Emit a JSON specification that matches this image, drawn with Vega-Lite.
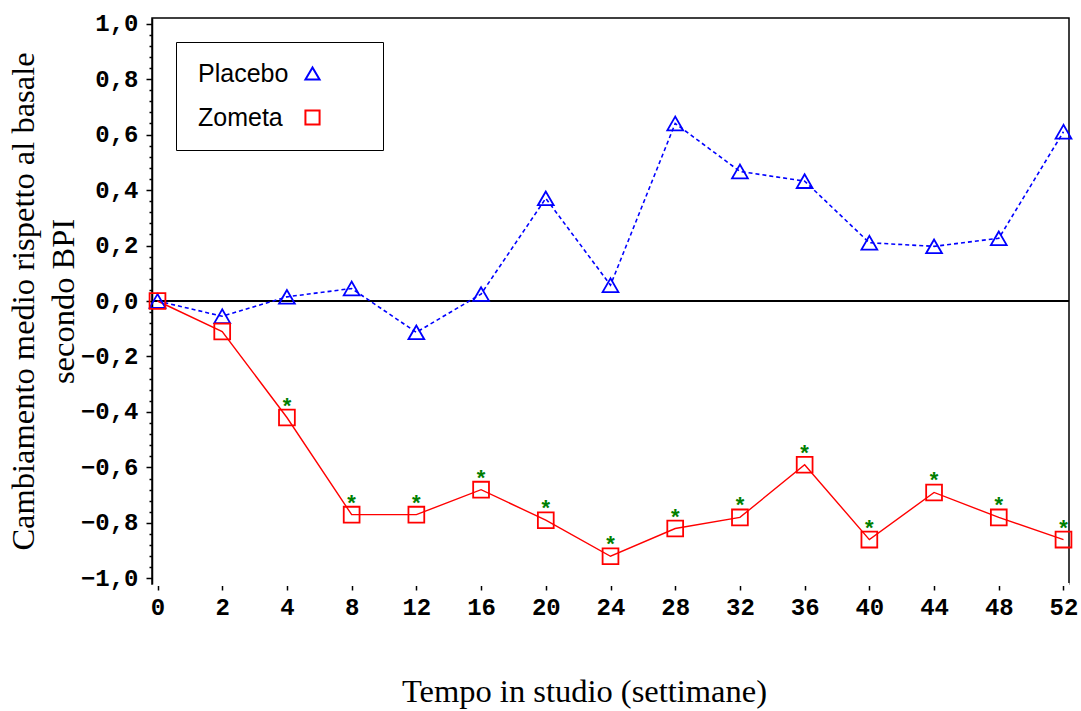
{
  "$schema": "https://vega.github.io/schema/vega-lite/v6.json",
  "width": 917,
  "height": 566,
  "autosize": {"type": "none"},
  "padding": {"left": 152, "top": 18, "right": 12, "bottom": 127},
  "background": "white",
  "config": {
    "view": {"stroke": "black", "strokeWidth": 1.5},
    "axis": {
      "grid": false,
      "domainColor": "black",
      "tickColor": "black",
      "labelColor": "black",
      "titleColor": "black",
      "labelFont": "Liberation Mono",
      "labelFontSize": 24,
      "labelFontWeight": "bold",
      "titleFont": "Liberation Serif",
      "titleFontSize": 32.5,
      "titleFontWeight": "normal"
    }
  },
  "data": {
    "values": [
      {"week": 0, "group": "Placebo", "value": 0, "sig": false},
      {"week": 2, "group": "Placebo", "value": -0.055, "sig": false},
      {"week": 4, "group": "Placebo", "value": 0.015, "sig": false},
      {"week": 8, "group": "Placebo", "value": 0.045, "sig": false},
      {"week": 12, "group": "Placebo", "value": -0.113, "sig": false},
      {"week": 16, "group": "Placebo", "value": 0.025, "sig": false},
      {"week": 20, "group": "Placebo", "value": 0.37, "sig": false},
      {"week": 24, "group": "Placebo", "value": 0.057, "sig": false},
      {"week": 28, "group": "Placebo", "value": 0.64, "sig": false},
      {"week": 32, "group": "Placebo", "value": 0.467, "sig": false},
      {"week": 36, "group": "Placebo", "value": 0.432, "sig": false},
      {"week": 40, "group": "Placebo", "value": 0.21, "sig": false},
      {"week": 44, "group": "Placebo", "value": 0.197, "sig": false},
      {"week": 48, "group": "Placebo", "value": 0.226, "sig": false},
      {"week": 52, "group": "Placebo", "value": 0.61, "sig": false},
      {"week": 0, "group": "Zometa", "value": 0, "sig": false},
      {"week": 2, "group": "Zometa", "value": -0.11, "sig": false},
      {"week": 4, "group": "Zometa", "value": -0.42, "sig": true},
      {"week": 8, "group": "Zometa", "value": -0.77, "sig": true},
      {"week": 12, "group": "Zometa", "value": -0.77, "sig": true},
      {"week": 16, "group": "Zometa", "value": -0.68, "sig": true},
      {"week": 20, "group": "Zometa", "value": -0.79, "sig": true},
      {"week": 24, "group": "Zometa", "value": -0.92, "sig": true},
      {"week": 28, "group": "Zometa", "value": -0.82, "sig": true},
      {"week": 32, "group": "Zometa", "value": -0.78, "sig": true},
      {"week": 36, "group": "Zometa", "value": -0.59, "sig": true},
      {"week": 40, "group": "Zometa", "value": -0.86, "sig": true},
      {"week": 44, "group": "Zometa", "value": -0.69, "sig": true},
      {"week": 48, "group": "Zometa", "value": -0.78, "sig": true},
      {"week": 52, "group": "Zometa", "value": -0.86, "sig": true}
    ]
  },
  "encoding": {
    "x": {
      "field": "week",
      "type": "ordinal",
      "scale": {"type": "point", "padding": 0.085},
      "axis": {
        "labelAngle": 0,
        "domain": true,
        "domainColor": "white",
        "domainWidth": 3,
        "tickSize": 6,
        "tickWidth": 1.5,
        "labelPadding": 5,
        "title": "Tempo in studio (settimane)",
        "titlePadding": 56,
        "titleX": 432
      }
    },
    "y": {
      "field": "value",
      "type": "quantitative",
      "scale": {"domain": [-1.02, 1.02], "nice": false, "zero": false},
      "axis": {
        "values": [-1, -0.96, -0.92, -0.88, -0.84, -0.8, -0.76, -0.72, -0.68, -0.64, -0.6, -0.56, -0.52, -0.48, -0.44, -0.4, -0.36, -0.32, -0.28, -0.24, -0.2, -0.16, -0.12, -0.08, -0.04, 0, 0.04, 0.08, 0.12, 0.16, 0.2, 0.24, 0.28, 0.32, 0.36, 0.4, 0.44, 0.48, 0.52, 0.56, 0.6, 0.64, 0.68, 0.72, 0.76, 0.8, 0.84, 0.88, 0.92, 0.96, 1],
        "labelExpr": "abs(datum.value*5 - round(datum.value*5)) < 0.001 ? replace(format(datum.value, '.1f'), '.', ',') : ''",
        "tickSize": {"condition": {"test": "abs(datum.value*5 - round(datum.value*5)) < 0.001", "value": 6}, "value": 3},
        "tickWidth": 1.5,
        "domainWidth": 1.5,
        "labelPadding": 8,
        "labelOverlap": false,
        "labelFlush": false,
        "title": ["Cambiamento medio rispetto al basale", "secondo BPI"],
        "titleLineHeight": 40,
        "titlePadding": 0
      }
    }
  },
  "layer": [
    {
      "mark": {"type": "rule", "color": "black", "strokeWidth": 1.5},
      "encoding": {"x": null, "y": {"datum": 0, "type": "quantitative"}}
    },
    {
      "transform": [{"filter": "datum.group === 'Placebo'"}],
      "mark": {"type": "line", "color": "#0000ff", "strokeDash": [4, 3], "strokeWidth": 1.6}
    },
    {
      "transform": [{"filter": "datum.group === 'Zometa'"}],
      "mark": {"type": "line", "color": "#ff0000", "strokeWidth": 1.4}
    },
    {
      "mark": {"type": "point", "filled": false, "strokeWidth": 1.8, "size": 250, "opacity": 1},
      "encoding": {
        "color": {
          "field": "group",
          "type": "nominal",
          "scale": {"domain": ["Placebo", "Zometa"], "range": ["#0000ff", "#ff0000"]},
          "legend": {
            "orient": "top-left",
            "offset": 24,
            "title": null,
            "padding": 19,
            "strokeColor": "black",
            "fillColor": "white",
            "labelFont": "Liberation Sans",
            "labelFontSize": 25,
            "labelColor": "black",
            "labelLimit": 400,
            "symbolStrokeWidth": 2,
            "symbolSize": 200,
            "rowPadding": 18,
            "symbolOffset": 105,
            "labelOffset": -127,
            "labelExpr": "datum.label + '\u2003\u2003\u2003\u200b'"
          }
        },
        "shape": {
          "field": "group",
          "type": "nominal",
          "scale": {"domain": ["Placebo", "Zometa"], "range": ["triangle-up", "square"]}
        }
      }
    },
    {
      "transform": [{"filter": "datum.sig"}],
      "mark": {"type": "text", "text": "*", "color": "#008000", "font": "Liberation Sans", "fontSize": 22, "fontWeight": "bold", "baseline": "middle", "dy": -12}
    }
  ]
}
